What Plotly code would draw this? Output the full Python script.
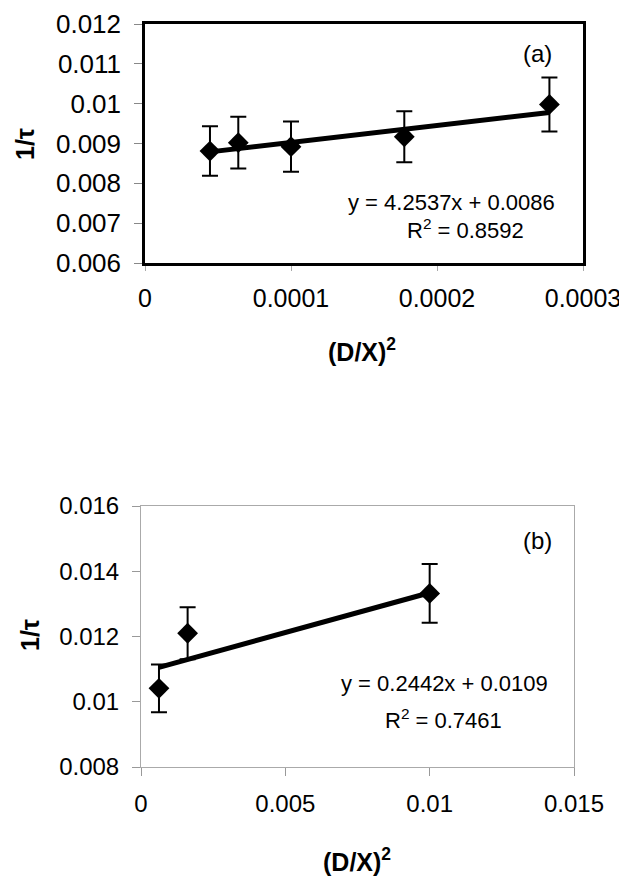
import plotly.graph_objects as go

# ---------------- data: panel (a) ----------------
a_x = [0.0000445, 0.0000639, 0.0001, 0.0001776, 0.000277]
a_y = [0.00881, 0.00902, 0.00892, 0.00917, 0.00998]
a_err = [0.00062, 0.00065, 0.00063, 0.00064, 0.00068]
a_fit = [4.2537, 0.0086]          # slope, intercept
a_xticks = [0, 0.0001, 0.0002, 0.0003]
a_xticktext = ["0", "0.0001", "0.0002", "0.0003"]
a_yticks = [0.006, 0.007, 0.008, 0.009, 0.010, 0.011, 0.012]
a_yticktext = ["0.006", "0.007", "0.008", "0.009", "0.01", "0.011", "0.012"]
a_eq = ["y = 4.2537x + 0.0086", "R<sup>2</sup> = 0.8592"]

# ---------------- data: panel (b) ----------------
b_x = [0.000623, 0.001615, 0.01]
b_y = [0.01041, 0.0121, 0.01332]
b_err = [0.00073, 0.0008, 0.0009]
b_fit = [0.2442, 0.0109]
b_xticks = [0, 0.005, 0.01, 0.015]
b_xticktext = ["0", "0.005", "0.01", "0.015"]
b_yticks = [0.008, 0.010, 0.012, 0.014, 0.016]
b_yticktext = ["0.008", "0.01", "0.012", "0.014", "0.016"]
b_eq = ["y = 0.2442x + 0.0109", "R<sup>2</sup> = 0.7461"]

# page body has an 8px default margin; size the figure so that it fits
OFF = 8
W, H = 627 - OFF, 881 - OFF
def px(x):
    return (x - OFF) / W
def py(y):
    return 1 - (y - OFF) / H

FONT = "Liberation Sans, Arial, sans-serif"

fig = go.Figure()

def add_panel(xs, ys, errs, fit, xa, ya, cap):
    x0, x1 = min(xs), max(xs)
    fig.add_trace(go.Scatter(
        x=[x0, x1], y=[fit[0] * x0 + fit[1], fit[0] * x1 + fit[1]],
        mode="lines", line=dict(color="black", width=5),
        xaxis=xa, yaxis=ya, showlegend=False, hoverinfo="skip"))
    fig.add_trace(go.Scatter(
        x=xs, y=ys, mode="markers",
        marker=dict(symbol="diamond", size=16, color="black"),
        error_y=dict(type="data", array=errs, visible=True, color="black",
                     thickness=2, width=cap),
        xaxis=xa, yaxis=ya, showlegend=False))

add_panel(a_x, a_y, a_err, a_fit, "x", "y", 8)
add_panel(b_x, b_y, b_err, b_fit, "x2", "y2", 8)

common = dict(showgrid=False, zeroline=False, ticks="outside",
              tickmode="array", showline=True, mirror=True,
              automargin=False)

fig.update_layout(
    template="none",
    width=W, height=H, autosize=False,
    margin=dict(l=0, r=0, t=0, b=0, pad=0),
    paper_bgcolor="white", plot_bgcolor="white",
    font=dict(family=FONT, color="black"),
    xaxis=dict(domain=[px(145), px(583)], anchor="y", range=[0, 0.0003],
               tickvals=a_xticks, ticktext=a_xticktext,
               tickfont=dict(size=25, family=FONT), ticklen=5,
               tickcolor="#aaaaaa", linecolor="black", linewidth=2.5,
               ticklabelstandoff=6, **common),
    yaxis=dict(domain=[py(263), py(24)], anchor="x", range=[0.006, 0.012],
               tickvals=a_yticks, ticktext=a_yticktext,
               tickfont=dict(size=26, family=FONT), ticklen=8,
               tickcolor="#888888", linecolor="black", linewidth=2.5,
               ticklabelstandoff=8, **common),
    xaxis2=dict(domain=[px(141), px(574)], anchor="y2", range=[0, 0.015],
                tickvals=b_xticks, ticktext=b_xticktext,
                tickfont=dict(size=24, family=FONT), ticklen=8,
                tickcolor="#999999", linecolor="#aaaaaa", linewidth=1,
                ticklabelstandoff=7, **common),
    yaxis2=dict(domain=[py(767), py(506)], anchor="x2", range=[0.008, 0.016],
                tickvals=b_yticks, ticktext=b_yticktext,
                tickfont=dict(size=24, family=FONT), ticklen=8,
                tickcolor="#999999", linecolor="#aaaaaa", linewidth=1,
                ticklabelstandoff=8, **common),
)

def ann(text, x, y, size, bold=False, angle=0):
    fig.add_annotation(
        text=f"<b>{text}</b>" if bold else text,
        x=px(x), y=py(y), xref="paper", yref="paper",
        xanchor="center", yanchor="middle", showarrow=False,
        textangle=angle, font=dict(size=size, family=FONT, color="black"))

# panel (a) annotations
ann("(a)", 537, 53, 24)
ann(a_eq[0], 451, 203, 22)
ann(a_eq[1], 465, 229, 22)
ann("1/τ", 25, 144, 25, bold=True, angle=-90)
ann("(D/X)<sup>2</sup>", 362, 350, 25, bold=True)

# panel (b) annotations
ann("(b)", 537, 540, 24)
ann(b_eq[0], 444, 683, 22)
ann(b_eq[1], 443, 719, 22)
ann("1/τ", 30, 635, 25, bold=True, angle=-90)
ann("(D/X)<sup>2</sup>", 357, 860, 25, bold=True)

fig.write_html("out.html")
